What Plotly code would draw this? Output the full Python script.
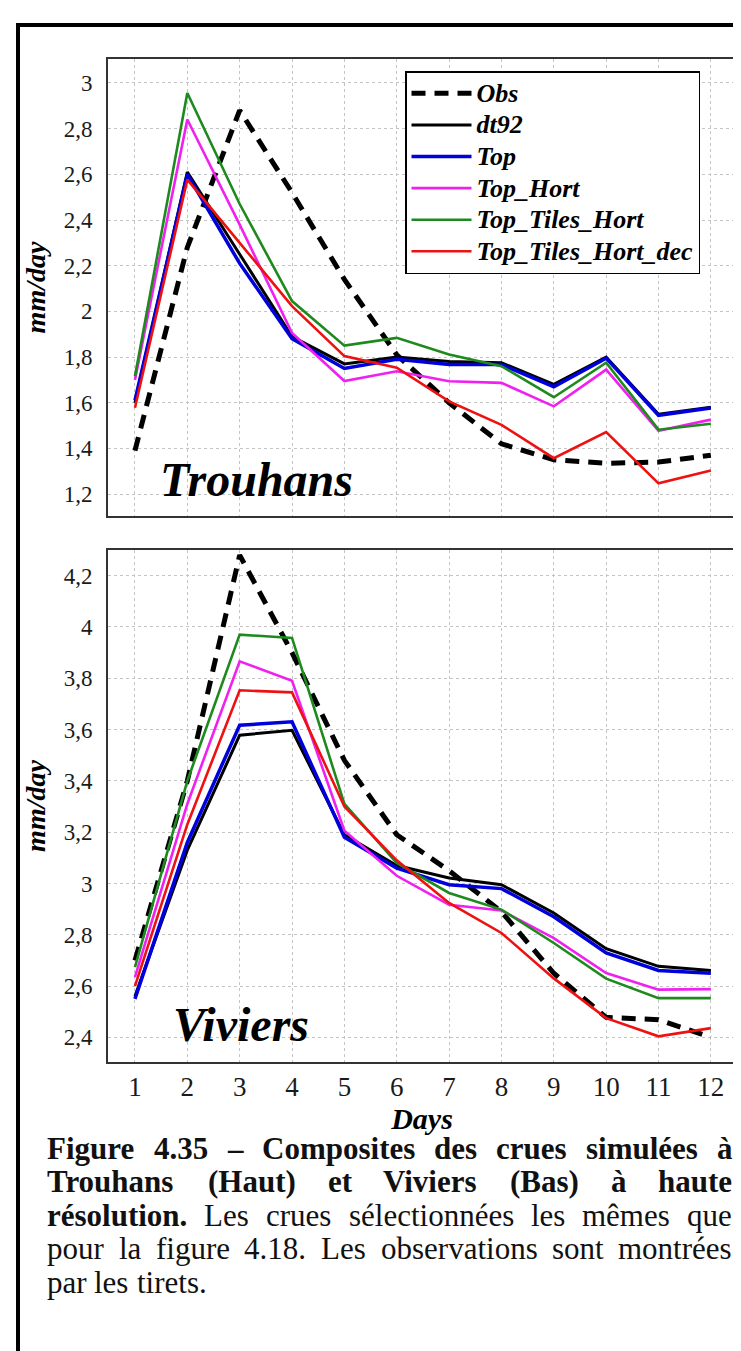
import plotly.graph_objects as go

# ---------------- data ----------------
days = [1, 2, 3, 4, 5, 6, 7, 8, 9, 10, 11, 12]
series_names = ["Obs", "dt92", "Top", "Top_Hort", "Top_Tiles_Hort", "Top_Tiles_Hort_dec"]

# Trouhans (top panel), mm/day
obs_t = [1.39, 2.28, 2.88, 2.52, 2.14, 1.81, 1.60, 1.42, 1.35, 1.335, 1.34, 1.37]
dt92_t = [1.60, 2.61, 2.25, 1.89, 1.77, 1.80, 1.78, 1.775, 1.68, 1.80, 1.55, 1.58]
top_t = [1.61, 2.60, 2.21, 1.88, 1.75, 1.79, 1.767, 1.767, 1.67, 1.795, 1.545, 1.577]
hort_t = [1.70, 2.84, 2.38, 1.905, 1.695, 1.738, 1.694, 1.687, 1.584, 1.745, 1.477, 1.526]
tiles_t = [1.716, 2.956, 2.47, 2.045, 1.85, 1.884, 1.811, 1.76, 1.624, 1.775, 1.482, 1.508]
dec_t = [1.578, 2.577, 2.30, 2.023, 1.804, 1.753, 1.606, 1.503, 1.357, 1.471, 1.247, 1.303]

# Viviers (bottom panel), mm/day
obs_v = [2.70, 3.40, 4.28, 3.90, 3.48, 3.19, 3.05, 2.89, 2.65, 2.478, 2.469, 2.40]
dt92_v = [2.56, 3.13, 3.578, 3.597, 3.19, 3.07, 3.021, 2.995, 2.885, 2.746, 2.677, 2.661]
top_v = [2.55, 3.16, 3.617, 3.63, 3.18, 3.06, 2.995, 2.98, 2.87, 2.729, 2.661, 2.65]
hort_v = [2.635, 3.31, 3.866, 3.79, 3.206, 3.03, 2.917, 2.895, 2.787, 2.651, 2.586, 2.588]
tiles_v = [2.674, 3.40, 3.97, 3.957, 3.31, 3.08, 2.963, 2.898, 2.768, 2.629, 2.553, 2.553]
dec_v = [2.60, 3.23, 3.753, 3.745, 3.30, 3.09, 2.924, 2.807, 2.63, 2.475, 2.404, 2.436]

x_ticks = days
y_ticks_top = [1.2, 1.4, 1.6, 1.8, 2.0, 2.2, 2.4, 2.6, 2.8, 3.0]
y_ticks_bot = [2.4, 2.6, 2.8, 3.0, 3.2, 3.4, 3.6, 3.8, 4.0, 4.2]

station_top = "Trouhans"
station_bot = "Viviers"
y_title = "mm/day"
x_title = "Days"

caption = [
    ([("Figure 4.35 – Composites des crues simulées à", True)], True),
    ([("Trouhans (Haut) et Viviers (Bas) à haute", True)], True),
    ([("résolution.", True), ("Les crues sélectionnées les mêmes que", False)], True),
    ([("pour la figure 4.18. Les observations sont montrées", False)], True),
    ([("par les tirets.", False)], False),
]

# ---------------- styles ----------------
FONT = "Liberation Serif"
styles = {
    "Obs": dict(color="black", width=5, dash="14px,9px"),
    "dt92": dict(color="black", width=3),
    "Top": dict(color="#0000dd", width=3.5),
    "Top_Hort": dict(color="#f020f0", width=2.6),
    "Top_Tiles_Hort": dict(color="#1e8a1e", width=2.6),
    "Top_Tiles_Hort_dec": dict(color="#ee1111", width=2.6),
}
LEG_TEXT_PX = 26

top_series = [obs_t, dt92_t, top_t, hort_t, tiles_t, dec_t]
bot_series = [obs_v, dt92_v, top_v, hort_v, tiles_v, dec_v]

fig = go.Figure()
for name, ys in zip(series_names, top_series):
    fig.add_trace(go.Scatter(x=days, y=ys, mode="lines",
                             name=f'<span style="font-size:{LEG_TEXT_PX}px">{name}</span>',
                             line=styles[name], xaxis="x2", yaxis="y2", showlegend=True))
for name, ys in zip(series_names, bot_series):
    fig.add_trace(go.Scatter(x=days, y=ys, mode="lines", name=name, line=styles[name],
                             xaxis="x", yaxis="y", showlegend=False))

# pixel geometry helpers (plot area: x 100..728, y 51..1054)
W, H = 741, 1351
L, R, T, B = 100, 13, 51, 297
PW, PH = W - L - R, H - T - B


def px2paper_x(px):
    return (px - L) / PW


def py2paper_y(py):
    return (H - B - py) / PH


top_dom = [py2paper_y(508), 1.0]
bot_dom = [0.0, py2paper_y(542)]

grid = dict(showgrid=True, gridcolor="#c4c4c4", griddash="dot", gridwidth=1,
            showline=True, linecolor="#333333", linewidth=2, mirror=True,
            ticks="", zeroline=False)

yt_font = dict(family=FONT, size=23, color="#1a1a1a")
ytitle_font = dict(family=FONT, size=28, weight="bold", style="italic")

fig.update_layout(
    width=W, height=H,
    margin=dict(l=L, r=R, t=T, b=B),
    paper_bgcolor="white", plot_bgcolor="white",
    separators=", ",
    font=dict(family=FONT, color="black"),
    xaxis=dict(range=[0.485, 12.48], tickvals=x_ticks, anchor="y",
               tickfont=dict(family=FONT, size=27, color="#1a1a1a"),
               title=dict(text=x_title, standoff=2,
                          font=dict(family=FONT, size=30, weight="bold", style="italic")),
               **grid),
    xaxis2=dict(range=[0.485, 12.48], tickvals=x_ticks, anchor="y2", showticklabels=False,
                matches="x", **grid),
    yaxis=dict(domain=bot_dom, range=[2.304, 4.30], tickvals=y_ticks_bot, anchor="x",
               tickfont=yt_font, ticklabelstandoff=9,
               title=dict(text=y_title, standoff=10, font=ytitle_font),
               **grid),
    yaxis2=dict(domain=top_dom, range=[1.104, 3.105], tickvals=y_ticks_top, anchor="x2",
                tickfont=yt_font, ticklabelstandoff=9,
                title=dict(text=y_title, standoff=10, font=ytitle_font),
                **grid),
    legend=dict(x=px2paper_x(397), y=py2paper_y(63), xanchor="left", yanchor="top",
                bgcolor="white", bordercolor="black", borderwidth=1.5,
                itemwidth=60,
                font=dict(family=FONT, size=22, weight="bold", style="italic", color="black")),
)

# station names
fig.add_annotation(x=1.44, y=1.265, xref="x2", yref="y2", text=f"<b><i>{station_top}</i></b>",
                   showarrow=False, xanchor="left", yanchor="middle",
                   font=dict(family=FONT, size=48, color="black"))
fig.add_annotation(x=1.69, y=2.45, xref="x", yref="y", text=f"<b><i>{station_bot}</i></b>",
                   showarrow=False, xanchor="left", yanchor="middle",
                   font=dict(family=FONT, size=48, color="black"))

# page frame
fig.add_shape(type="line", xref="paper", yref="paper",
              x0=px2paper_x(10), x1=px2paper_x(10), y0=py2paper_y(15), y1=py2paper_y(1360),
              line=dict(color="black", width=4))
fig.add_shape(type="line", xref="paper", yref="paper",
              x0=px2paper_x(8), x1=px2paper_x(745), y0=py2paper_y(17), y1=py2paper_y(17),
              line=dict(color="black", width=4))

# caption with justified lines (Times-compatible metrics for Liberation Serif)
REG = {' ': 250, 'a': 444, 'b': 500, 'c': 444, 'd': 500, 'e': 444, 'f': 333, 'g': 500, 'h': 500,
       'i': 278, 'l': 278, 'm': 778, 'n': 500, 'o': 500, 'p': 500, 'q': 500, 'r': 333, 's': 389,
       't': 278, 'u': 500, 'v': 500, 'L': 611, 'é': 444, 'ê': 444, 'à': 444, '.': 250,
       '1': 500, '4': 500, '8': 500}
BOLD = {' ': 250, 'a': 500, 'c': 444, 'd': 556, 'e': 444, 'g': 500, 'h': 556, 'i': 278, 'l': 278,
        'm': 833, 'n': 556, 'o': 500, 'p': 556, 'r': 444, 's': 389, 't': 333, 'u': 556, 'v': 500,
        'é': 444, 'à': 500, 'C': 722, 'F': 611, 'T': 667, 'H': 778, 'V': 722, 'B': 667,
        '(': 333, ')': 333, '.': 250, '3': 500, '4': 500, '5': 500, '–': 500}
CAP_FS = 31
CAP_L, CAP_R = 37, 722
cap_y0, cap_dy = 1140, 33.5

for li, (parts, justify) in enumerate(caption):
    words = []
    for txt, bold in parts:
        for w in txt.split(" "):
            words.append((w, bold))
    widths = [sum((BOLD if b else REG).get(ch, 500) for ch in w) / 1000 * CAP_FS for w, b in words]
    if justify and len(words) > 1:
        gap = (CAP_R - CAP_L - sum(widths)) / (len(words) - 1)
    else:
        gap = 0.25 * CAP_FS
    xpos = CAP_L
    py = cap_y0 + li * cap_dy
    for (w, b), wd in zip(words, widths):
        fig.add_annotation(x=px2paper_x(xpos), y=py2paper_y(py), xref="paper", yref="paper",
                           text=(f"<b>{w}</b>" if b else w), showarrow=False,
                           xanchor="left", yanchor="middle",
                           font=dict(family=FONT, size=CAP_FS, color="#111"))
        xpos += wd + gap

fig.write_html("out.html")
